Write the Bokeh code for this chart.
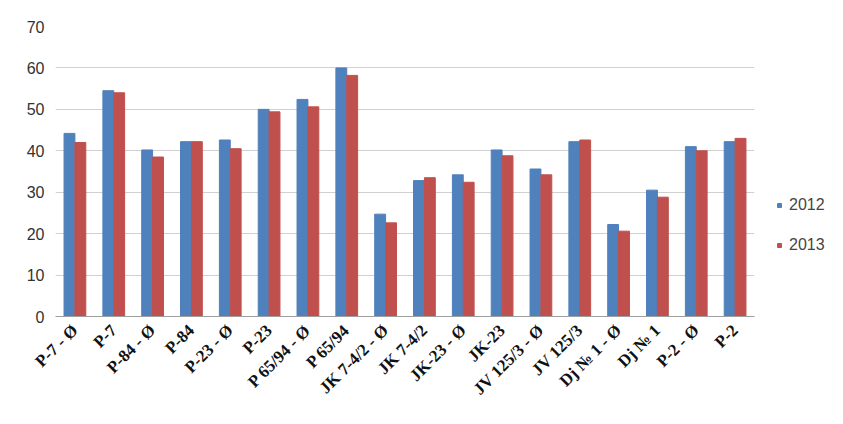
from bokeh.plotting import figure
from bokeh.models import ColumnDataSource, Legend, LegendItem, FactorRange
from bokeh.layouts import row
from bokeh.transform import dodge
from bokeh.embed import file_html
from bokeh.resources import INLINE
import math

cats = ["P-7 - Ø", "P-7", "P-84 - Ø", "P-84", "P-23 - Ø", "P-23", "P 65/94 - Ø", "P 65/94",
        "JK 7-4/2 - Ø", "JK 7-4/2", "JK-23 - Ø", "JK-23", "JV 125/3 - Ø", "JV 125/3",
        "Dj № 1 - Ø", "Dj № 1", "P-2 - Ø", "P-2"]
series = ["2012", "2013"]
v2012 = [44.2, 54.5, 40.2, 42.2, 42.6, 50.0, 52.4, 60.0, 24.7, 32.8, 34.2, 40.2, 35.6, 42.2, 22.2, 30.5, 41.0, 42.2]
v2013 = [42.0, 54.0, 38.5, 42.2, 40.5, 49.4, 50.6, 58.2, 22.6, 33.5, 32.4, 38.8, 34.2, 42.6, 20.6, 28.8, 40.0, 43.0]
colors = ["#4f81bd", "#c0504d"]

src = ColumnDataSource(dict(c=cats, a=v2012, b=v2013))
p = figure(x_range=FactorRange(*cats, range_padding=0.0), y_range=(0, 70),
           width=762, height=408,
           output_backend="svg", toolbar_location=None, min_border_left=55, min_border_top=26,
           min_border_right=8, min_border_bottom=0)
p.vbar(x=dodge("c", -0.14, range=p.x_range), top="a", width=0.28, source=src, color=colors[0])
p.vbar(x=dodge("c", 0.14, range=p.x_range), top="b", width=0.28, source=src, color=colors[1])
p.outline_line_color = None
p.xgrid.grid_line_color = None
p.ygrid.grid_line_color = "#d0d0d0"
p.yaxis.axis_line_color = None
p.yaxis.major_tick_line_color = None
p.yaxis.minor_tick_line_color = None
p.yaxis.ticker = list(range(0, 80, 10))
p.yaxis.major_label_text_font = "Liberation Sans"
p.yaxis.major_label_text_font_size = "16px"
p.yaxis.major_label_text_color = "#333333"
p.xaxis.axis_line_color = "#a0a0a0"
p.xaxis.major_tick_line_color = None
p.xaxis.major_label_orientation = math.pi / 4
p.xaxis.major_label_text_font = "Liberation Serif"
p.xaxis.major_label_text_font_style = "bold"
p.xaxis.major_label_text_font_size = "17px"
p.xaxis.major_label_text_color = "#111111"

lf = figure(width=65, height=408, output_backend="svg", toolbar_location=None,
            x_range=(0, 1), y_range=(0, 1), min_border=0)
lf.axis.visible = False
lf.grid.visible = False
lf.outline_line_color = None
offscreen = ColumnDataSource(dict(x=[5], y=[5]))
items = []
for s, col in zip(series, colors):
    r = lf.scatter(x="x", y="y", source=offscreen, marker="square", size=10, color=col)
    items.append(LegendItem(label=s, renderers=[r]))
leg = Legend(items=items, border_line_color=None, background_fill_alpha=0,
             label_text_font="Liberation Sans", label_text_font_size="16px",
             glyph_width=10, glyph_height=10, spacing=22, padding=0, margin=0,
             location=(12, 62))
lf.add_layout(leg, "center")
open("out.html", "w").write(file_html(row(p, lf), INLINE))
